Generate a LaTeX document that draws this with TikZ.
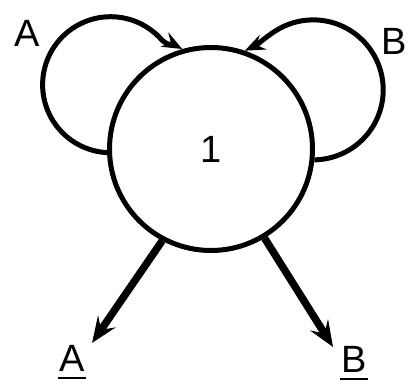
\documentclass[tikz,border=0pt]{standalone}
\usepackage{fontspec}
\setmainfont{Liberation Sans}
\usetikzlibrary{arrows.meta}
\newcommand\ulbox[1]{\setbox0\hbox{#1}\rlap{\hspace*{-1pt}\raisebox{-7pt}{\rule{\dimexpr\wd0+2pt\relax}{2.2pt}}}\box0}
\begin{document}
\begin{tikzpicture}[x=1pt,y=1pt,
  lbl/.style={font=\fontsize{38}{40}\selectfont, inner sep=0pt, anchor=base},
  loopline/.style={line width=5pt, -{Stealth[length=20pt,width=16pt,inset=7pt]}},
  outline/.style={line width=7.5pt, -{Stealth[length=26pt,width=21pt,inset=10pt]}}]
\useasboundingbox (0,0) rectangle (413,388);
\node[circle, draw, line width=5pt, minimum size=203pt, inner sep=0pt,
  font=\fontsize{38}{40}\selectfont] (c) at (211,239) {1};
\node[lbl] (la) at (27,341) {A};
\node[lbl] (lb) at (394,333) {B};
\node[lbl] (oa) at (72,16) {\ulbox{A}};
\node[lbl] (ob) at (354,15) {\ulbox{B}};
\coordinate (ta) at (92,45);
\coordinate (tb) at (333,41);
\draw[loopline] (c.182) arc[start angle=267,end angle=42,radius=68] to[out=-48,in=152] (c.106);
\draw[loopline] (c.-6) arc[start angle=-89,end angle=123,radius=70] to[out=213,in=25] (c.71);
\draw[outline] (c.242) -- (ta);
\draw[outline] (c.-59) -- (tb);
\end{tikzpicture}
\end{document}
